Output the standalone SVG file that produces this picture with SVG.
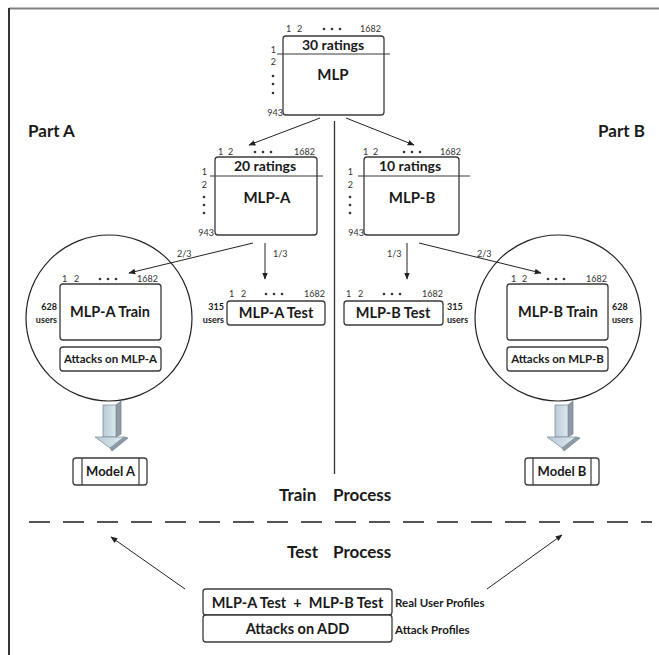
<svg xmlns="http://www.w3.org/2000/svg" width="659" height="655" viewBox="0 0 659 655">
<style>
.t{font-family:Lato,"Liberation Sans",sans-serif;fill:#1a1a1a}
.b{font-weight:bold}
.num{font-family:Lato,"Liberation Sans",sans-serif;font-size:9px;fill:#333}
.box{fill:#fff;stroke:#3a3a3a;stroke-width:1.3}
.sep{stroke:#3a3a3a;stroke-width:1.2}
.dot{fill:#333}
.conn{stroke:#222;stroke-width:1;fill:none;marker-end:url(#ah)}
.circ{fill:none;stroke:#222;stroke-width:1.2}
.front{fill:url(#g1);stroke:#8090a0;stroke-width:0.8}
.side{fill:#8e9aa6;stroke:#7a8794;stroke-width:0.8}
</style>
<defs>
<marker id="ah" viewBox="0 0 10 10" refX="9" refY="5" markerWidth="7" markerHeight="7" orient="auto" markerUnits="userSpaceOnUse">
<path d="M0,1 L10,5 L0,9 z" fill="#222"/>
</marker>
<linearGradient id="g1" x1="0" y1="0" x2="1" y2="0">
<stop offset="0" stop-color="#b9cad6"/>
<stop offset="1" stop-color="#dfe8ee"/>
</linearGradient>
</defs>
<rect width="659" height="655" fill="#fff"/>
<g id="frame">
<line x1="9" y1="8.5" x2="659" y2="8.5" stroke="#808080" stroke-width="2"/>
<line x1="9" y1="8" x2="9" y2="655" stroke="#333" stroke-width="2"/>
<line x1="334.5" y1="121" x2="334.5" y2="474" stroke="#333" stroke-width="1.3"/>
<line x1="29" y1="522" x2="652" y2="522" stroke="#555" stroke-width="2" stroke-dasharray="21 13"/>
</g>
<g id="labels">
<text class="t b" x="28" y="137" font-size="17">Part A</text>
<text class="t b" x="598" y="137" font-size="17">Part B</text>
<text class="t b" x="279" y="501" font-size="17">Train<tspan x="333">Process</tspan></text>
<text class="t b" x="287" y="558" font-size="17">Test<tspan x="333">Process</tspan></text>
</g>
<g id="mlp">
<rect class="box" x="283" y="36" width="101" height="79" rx="3"/>
<line class="sep" x1="277" y1="54" x2="390" y2="54"/>
<text class="t b" x="333" y="50" font-size="14" text-anchor="middle">30 ratings</text>
<text class="t b" x="333" y="80" font-size="15" text-anchor="middle">MLP</text>
<text class="num" x="286" y="32">1</text><text class="num" x="297" y="32">2</text>
<circle class="dot" cx="324" cy="29" r="1.3"/><circle class="dot" cx="332" cy="29" r="1.3"/><circle class="dot" cx="340" cy="29" r="1.3"/>
<text class="num" x="381" y="32" text-anchor="end">1682</text>
<text class="num" x="276" y="53" text-anchor="end">1</text>
<text class="num" x="276" y="65" text-anchor="end">2</text>
<circle class="dot" cx="273" cy="76" r="1.3"/><circle class="dot" cx="273" cy="84" r="1.3"/><circle class="dot" cx="273" cy="93" r="1.3"/>
<text class="num" x="283" y="116" text-anchor="end">943</text>
</g>
<g id="mlp-a">
<rect class="box" x="215" y="157" width="102" height="78" rx="3"/>
<line class="sep" x1="210" y1="176" x2="323" y2="176"/>
<text class="t b" x="265" y="171" font-size="14" text-anchor="middle">20 ratings</text>
<text class="t b" x="267" y="203" font-size="15" text-anchor="middle">MLP-A</text>
<text class="num" x="218" y="155">1</text><text class="num" x="228" y="155">2</text>
<circle class="dot" cx="255" cy="152" r="1.3"/><circle class="dot" cx="263" cy="152" r="1.3"/><circle class="dot" cx="271" cy="152" r="1.3"/>
<text class="num" x="315" y="155" text-anchor="end">1682</text>
<text class="num" x="207" y="175" text-anchor="end">1</text>
<text class="num" x="207" y="188" text-anchor="end">2</text>
<circle class="dot" cx="204" cy="197" r="1.3"/><circle class="dot" cx="204" cy="205" r="1.3"/><circle class="dot" cx="204" cy="213" r="1.3"/>
<text class="num" x="214" y="236" text-anchor="end">943</text>
</g>
<g id="mlp-b">
<rect class="box" x="364" y="157" width="95" height="78" rx="3"/>
<line class="sep" x1="358" y1="176" x2="470" y2="176"/>
<text class="t b" x="410" y="171" font-size="14" text-anchor="middle">10 ratings</text>
<text class="t b" x="412" y="203" font-size="15" text-anchor="middle">MLP-B</text>
<text class="num" x="363" y="155">1</text><text class="num" x="373" y="155">2</text>
<circle class="dot" cx="404" cy="152" r="1.3"/><circle class="dot" cx="412" cy="152" r="1.3"/><circle class="dot" cx="420" cy="152" r="1.3"/>
<text class="num" x="461" y="155" text-anchor="end">1682</text>
<text class="num" x="353" y="175" text-anchor="end">1</text>
<text class="num" x="353" y="188" text-anchor="end">2</text>
<circle class="dot" cx="350" cy="197" r="1.3"/><circle class="dot" cx="350" cy="205" r="1.3"/><circle class="dot" cx="350" cy="213" r="1.3"/>
<text class="num" x="364" y="236" text-anchor="end">943</text>
</g>
<g id="train-a">
<circle class="circ" cx="109" cy="318" r="83"/>
<rect class="box" x="60" y="284" width="101" height="56" rx="3"/>
<text class="t b" x="110" y="317" font-size="14.5" text-anchor="middle">MLP-A Train</text>
<text class="num" x="62" y="282">1</text><text class="num" x="74" y="282">2</text>
<circle class="dot" cx="100" cy="279" r="1.3"/><circle class="dot" cx="108" cy="279" r="1.3"/><circle class="dot" cx="116" cy="279" r="1.3"/>
<text class="num" x="158" y="282" text-anchor="end">1682</text>
<text class="t b" x="57" y="310" font-size="9" text-anchor="end">628</text>
<text class="t b" x="57" y="323" font-size="9" text-anchor="end">users</text>
<rect class="box" x="60" y="347" width="101" height="24" rx="3"/>
<text class="t b" x="110.5" y="363" font-size="11.5" text-anchor="middle">Attacks on MLP-A</text>
</g>
<g id="test-a">
<rect class="box" x="227" y="301" width="98" height="24" rx="3"/>
<text class="t b" x="276" y="318" font-size="14.5" text-anchor="middle">MLP-A Test</text>
<text class="num" x="229" y="297">1</text><text class="num" x="241" y="297">2</text>
<circle class="dot" cx="266" cy="294" r="1.3"/><circle class="dot" cx="274" cy="294" r="1.3"/><circle class="dot" cx="282" cy="294" r="1.3"/>
<text class="num" x="325" y="297" text-anchor="end">1682</text>
<text class="t b" x="224" y="310" font-size="9" text-anchor="end">315</text>
<text class="t b" x="224" y="323" font-size="9" text-anchor="end">users</text>
</g>
<g id="test-b">
<rect class="box" x="344" y="301" width="99" height="24" rx="3"/>
<text class="t b" x="393" y="318" font-size="14.5" text-anchor="middle">MLP-B Test</text>
<text class="num" x="346" y="297">1</text><text class="num" x="358" y="297">2</text>
<circle class="dot" cx="384" cy="294" r="1.3"/><circle class="dot" cx="392" cy="294" r="1.3"/><circle class="dot" cx="400" cy="294" r="1.3"/>
<text class="num" x="443" y="297" text-anchor="end">1682</text>
<text class="t b" x="447" y="310" font-size="9">315</text>
<text class="t b" x="447" y="323" font-size="9">users</text>
</g>
<g id="train-b">
<circle class="circ" cx="558" cy="318" r="83"/>
<rect class="box" x="507" y="284" width="101" height="56" rx="3"/>
<text class="t b" x="558" y="317" font-size="14.5" text-anchor="middle">MLP-B Train</text>
<text class="num" x="511" y="282">1</text><text class="num" x="522" y="282">2</text>
<circle class="dot" cx="548" cy="279" r="1.3"/><circle class="dot" cx="556" cy="279" r="1.3"/><circle class="dot" cx="564" cy="279" r="1.3"/>
<text class="num" x="607" y="282" text-anchor="end">1682</text>
<text class="t b" x="612" y="310" font-size="9">628</text>
<text class="t b" x="612" y="323" font-size="9">users</text>
<rect class="box" x="507" y="347" width="101" height="24" rx="3"/>
<text class="t b" x="557.5" y="363" font-size="11.5" text-anchor="middle">Attacks on MLP-B</text>
</g>
<g id="arrow-a">
<polygon class="side" points="116,405 121,401 121,434 116,437"/>
<rect class="front" x="103" y="405" width="13" height="32"/>
<polygon class="side" points="110,448 124,437 128,438 112,451"/>
<polygon class="front" points="95,437 124,437 110,448"/>
</g>
<g id="arrow-b">
<polygon class="side" points="568,405 573,401 573,434 568,437"/>
<rect class="front" x="555" y="405" width="13" height="32"/>
<polygon class="side" points="562,448 576,437 580,438 564,451"/>
<polygon class="front" points="547,437 576,437 562,448"/>
</g>
<g id="model-a">
<rect class="box" x="73" y="458" width="74" height="27" rx="3"/>
<line class="sep" x1="82" y1="458" x2="82" y2="485"/>
<line class="sep" x1="139" y1="458" x2="139" y2="485"/>
<text class="t b" x="110.5" y="476" font-size="13" text-anchor="middle">Model A</text>
</g>
<g id="model-b">
<rect class="box" x="525" y="458" width="74" height="27" rx="3"/>
<line class="sep" x1="533" y1="458" x2="533" y2="485"/>
<line class="sep" x1="591" y1="458" x2="591" y2="485"/>
<text class="t b" x="562" y="476" font-size="13" text-anchor="middle">Model B</text>
</g>
<g id="test-set">
<rect class="box" x="203" y="589" width="189" height="26" rx="3"/>
<rect class="box" x="203" y="615" width="189" height="27" rx="3"/>
<text class="t b" x="297.5" y="608" font-size="14.5" text-anchor="middle" xml:space="preserve">MLP-A Test  +  MLP-B Test</text>
<text class="t b" x="297.5" y="634" font-size="14.5" text-anchor="middle">Attacks on ADD</text>
<text class="t b" x="395" y="607" font-size="11.5">Real User Profiles</text>
<text class="t b" x="395" y="634" font-size="11.5">Attack Profiles</text>
</g>
<g id="connectors">
<line class="conn" x1="320" y1="118" x2="249" y2="145"/>
<line class="conn" x1="346" y1="118" x2="414" y2="145"/>
<line class="conn" x1="253" y1="243" x2="129" y2="273"/>
<line class="conn" x1="265" y1="243" x2="265" y2="279"/>
<line class="conn" x1="407" y1="243" x2="407" y2="279"/>
<line class="conn" x1="419" y1="243" x2="541" y2="273"/>
<line class="conn" x1="185" y1="589" x2="111" y2="537"/>
<line class="conn" x1="487" y1="589" x2="562" y2="535"/>
<text class="num" x="177" y="257">2/3</text>
<text class="num" x="273" y="257">1/3</text>
<text class="num" x="387" y="257">1/3</text>
<text class="num" x="477" y="257">2/3</text>
</g>
</svg>
